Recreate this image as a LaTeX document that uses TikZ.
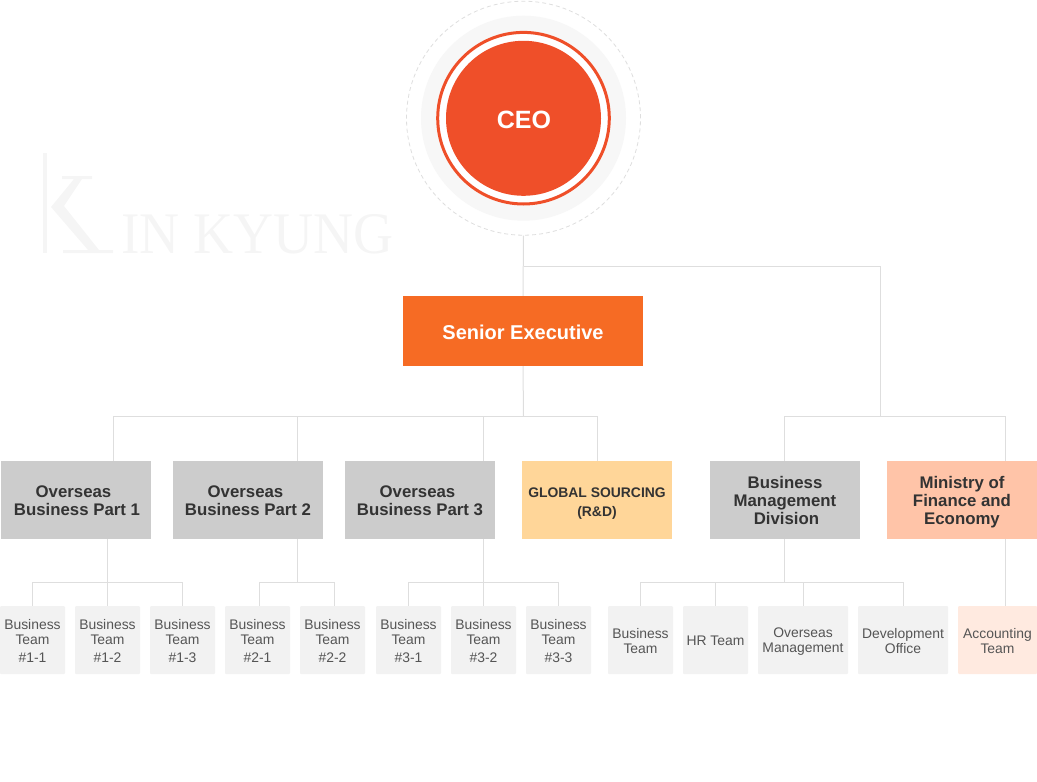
\documentclass[tikz,border=0pt]{standalone}
\usepackage{fontspec}
\setmainfont{Liberation Sans}
\newfontfamily\wmfont[FakeStretch=0.94]{Liberation Serif}
\definecolor{ceoc}{HTML}{EF4F29}
\definecolor{senc}{HTML}{F66B24}
\definecolor{linec}{HTML}{DEDEDE}
\definecolor{divc}{HTML}{CCCCCC}
\definecolor{globc}{HTML}{FFD699}
\definecolor{finc}{HTML}{FFC4A8}
\definecolor{teamc}{HTML}{F2F2F2}
\definecolor{acctc}{HTML}{FFEAE0}
\definecolor{wmc}{HTML}{F5F5F5}
\definecolor{haloc}{HTML}{F7F7F7}
\definecolor{txtd}{HTML}{333333}
\definecolor{txtl}{HTML}{555555}
\newcommand\TB{\rule{0pt}{1em}}
\newcommand\TT{\rule{0pt}{1.1em}}
\newcommand\BB{\rule[-.284em]{0pt}{.284em}}
\tikzset{
  conn/.style={draw=linec,line width=1pt},
  divbox/.style={rectangle,fill=divc,minimum width=150pt,minimum height=78pt,inner sep=0pt,align=center,text=txtd,font=\fontsize{16.8}{18}\selectfont\bfseries},
  teambox/.style={rectangle,rounded corners=1pt,fill=teamc,minimum width=65pt,minimum height=68pt,inner sep=0pt,align=center,text=txtl,font=\fontsize{13.9}{15}\selectfont},
}
\begin{document}
\begin{tikzpicture}[x=1pt,y=-1pt]
\useasboundingbox (0,0) rectangle (1037,782);
% watermark
\fill[wmc] (43,153) rectangle (47,253);
\fill[wmc] (62,176) -- (92,176) -- (92,179) -- (82,179) -- (64,206) -- (99,250) -- (113,250) -- (113,253) -- (63,253) -- (63,250) -- (88,250) -- (51,207) -- (74,179) -- (62,179) -- cycle;
\node[inner sep=0pt,anchor=base west,text=wmc,font=\fontsize{59}{59}\selectfont\wmfont] (wm) at (121,253) {IN KYUNG};
% ceo
\node[circle,draw=linec,fill=white,line width=0.8pt,dash pattern=on 4pt off 3pt,minimum size=234pt,inner sep=0pt] (halo) at (523.5,118.2) {};
\fill[haloc] (halo.center) circle (102.5);
\fill[white] (halo.center) circle (87.3);
\draw[ceoc,line width=3pt] (halo.center) circle (85.8);
\node[circle,fill=ceoc,minimum size=155pt,inner sep=0pt,text=white,font=\fontsize{25}{25}\selectfont\bfseries] (ceo) at (523.5,118.3) {\rule{0pt}{1.08em}\hspace*{1pt}CEO\BB};
\node[rectangle,fill=senc,minimum width=240pt,minimum height=70pt,inner sep=0pt,text=white,font=\fontsize{20}{22}\selectfont\bfseries] (sen) at (523,331) {\TT Senior Executive\BB};
% divisions
\node[divbox] (p1) at (76,500) {\TB Overseas\hspace*{5pt}\\\hspace*{2pt}Business Part 1\BB};
\node[divbox] (p2) at (248,500) {\TB Overseas\hspace*{5pt}\\Business Part 2\BB};
\node[divbox] (p3) at (420,500) {\TB Overseas\hspace*{5pt}\\Business Part 3\BB};
\node[divbox,fill=globc,font=\fontsize{13.9}{19}\selectfont\bfseries] (gs) at (597,500) {\rule{0pt}{1.3em}GLOBAL SOURCING\\(R\&D)\BB};
\node[divbox] (bm) at (785,500) {\TB Business\\Management\\\hspace*{3pt}Division\BB};
\node[divbox,fill=finc] (fin) at (962,500) {\TB Ministry of\\Finance and\\Economy\BB};
% teams
\node[teambox] (t11) at (32.5,640) {\TT Business\\Team\\[3pt]\#1-1\BB};
\node[teambox] (t12) at (107.5,640) {\TT Business\\Team\\[3pt]\#1-2\BB};
\node[teambox] (t13) at (182.5,640) {\TT Business\\Team\\[3pt]\#1-3\BB};
\node[teambox] (t21) at (257.5,640) {\TT Business\\Team\\[3pt]\#2-1\BB};
\node[teambox] (t22) at (332.5,640) {\TT Business\\Team\\[3pt]\#2-2\BB};
\node[teambox] (t31) at (408.5,640) {\TT Business\\Team\\[3pt]\#3-1\BB};
\node[teambox] (t32) at (483.5,640) {\TT Business\\Team\\[3pt]\#3-2\BB};
\node[teambox] (t33) at (558.5,640) {\TT Business\\Team\\[3pt]\#3-3\BB};
\node[teambox] (b1) at (640.5,640) {\TT Business\\Team\BB};
\node[teambox] (b2) at (715.5,640) {\TT HR Team\BB};
\node[teambox,minimum width=90pt] (b3) at (803,640) {\TB Overseas\\Management\BB};
\node[teambox,minimum width=90pt] (b4) at (903,640) {\TT Development\\Office\BB};
\node[teambox,minimum width=79pt,fill=acctc] (ac) at (997.5,640) {\TT Accounting\\Team\BB};
% junctions
\coordinate (jc) at (523.5,266);
\coordinate (jr) at (880.5,266);
\coordinate (js) at (523.5,416);
\coordinate (jrb) at (880.5,416);
\coordinate (jl) at (113.5,416);
\coordinate (jm) at (597.5,416);
\coordinate (jn) at (784.5,416);
\coordinate (jq) at (1005.5,416);
\coordinate (j1) at (107.5,582);
\coordinate (j2) at (297.5,582);
\coordinate (j3) at (483.5,582);
\coordinate (j4) at (784.5,582);
\coordinate (j21) at (259.5,582);
\coordinate (j22) at (334.5,582);
% connectors
\draw[conn] (halo.south) -- (sen.north);
\draw[conn] (jc) -- (jr) -- (jrb);
\draw[conn] (sen.south) -- (js);
\draw[conn] (jl) -- (jm);
\draw[conn] (jn) -- (jq);
\foreach \n/\x in {p1/113.5,p2/297.5,p3/483.5,gs/597.5,bm/784.5,fin/1005.5}
  \draw[conn] (\x,416) -- (\x,416 |- \n.north);
\draw[conn] (j1 |- p1.south) -- (j1);
\draw[conn] (j2 |- p2.south) -- (j2);
\draw[conn] (j3 |- p3.south) -- (j3);
\draw[conn] (j4 |- bm.south) -- (j4);
\draw[conn] (t11.north) -- (t11.north |- j1) -- (t13.north |- j1) -- (t13.north);
\draw[conn] (j1) -- (t12.north);
\draw[conn] (j21 |- t21.north) -- (j21) -- (j22) -- (j22 |- t22.north);
\draw[conn] (t31.north) -- (t31.north |- j3) -- (t33.north |- j3) -- (t33.north);
\draw[conn] (j3) -- (t32.north);
\draw[conn] (b1.north) -- (b1.north |- j4) -- (b4.north |- j4) -- (b4.north);
\draw[conn] (b2.north |- j4) -- (b2.north);
\draw[conn] (b3.north |- j4) -- (b3.north);
\draw[conn] (jq |- fin.south) -- (jq |- ac.north);
\end{tikzpicture}
\end{document}
